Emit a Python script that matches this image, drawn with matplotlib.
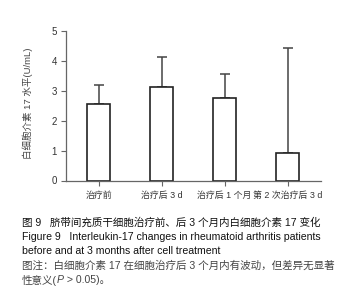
import matplotlib
matplotlib.use("Agg")
import matplotlib.pyplot as plt
import numpy as np

plt.rcParams['font.family'] = ['Liberation Sans', 'Noto Sans CJK SC', 'DejaVu Sans']

categories = ["治疗前", "治疗后 3 d", "治疗后 1 个月", "第 2 次治疗后 3 d"]
means = [2.56, 3.12, 2.75, 0.92]
errors = [0.64, 1.02, 0.80, 3.50]
yticks = [0, 1, 2, 3, 4, 5]
ylabel = "白细胞介素 17 水平(U/mL)"
caption_lines = [
    ("图 9   脐带间充质干细胞治疗前、后 3 个月内白细胞介素 17 变化", "#111111"),
    ("Figure 9   Interleukin-17 changes in rheumatoid arthritis patients", "#111111"),
    ("before and at 3 months after cell treatment", "#111111"),
    ("图注：白细胞介素 17 在细胞治疗后 3 个月内有波动，但差异无显著", "#444444"),
]
last_parts = [("性意义(", "normal"), ("P", "italic"), (" > 0.05)。", "normal")]

W, H = 343, 298
fig = plt.figure(figsize=(W / 100, H / 100), dpi=100)
ax = fig.add_axes([66 / W, 1 - 180.5 / H, (321 - 66) / W, (180.5 - 31) / H])

x = np.arange(len(categories))
axis_color = "#666666"
ax.bar(x, means, width=0.37, color="white", edgecolor="#222222", linewidth=1.2, zorder=2)
ax.errorbar(x, means, yerr=[np.zeros(len(errors)), errors], fmt="none",
            ecolor="#444444", elinewidth=1.1, capsize=3.5, capthick=1.1, zorder=1)

ax.set_xlim(-0.52, 3.53)
ax.set_ylim(0, 5)
ax.set_yticks(yticks)
ax.set_xticks(x)
ax.set_xticklabels(categories, fontsize=6.4, color="#333333")
ax.tick_params(axis="y", labelsize=7, colors="#333333", length=3.5, width=0.8, color=axis_color, pad=3)
ax.tick_params(axis="x", length=3.5, width=0.8, color=axis_color, pad=4)
for s in ["top", "right"]:
    ax.spines[s].set_visible(False)
for s in ["left", "bottom"]:
    ax.spines[s].set_color(axis_color)
    ax.spines[s].set_linewidth(0.9)
ax.spines["left"].set_bounds(0, 5)

fig.text(27.5 / W, 1 - 103 / H, ylabel, rotation=90, fontsize=6.8, color="#444444",
         ha="center", va="center")

fs = 7.6
ys = [222, 236.5, 251, 265.5, 280]
for (txt, col), yy in zip(caption_lines, ys[:4]):
    fig.text(22 / W, 1 - yy / H, txt, fontsize=fs, color=col, ha="left", va="center")

renderer = fig.canvas.get_renderer()
xpos = 22
for txt, style in last_parts:
    t = fig.text(xpos / W, 1 - ys[4] / H, txt, fontsize=fs, color="#444444",
                 ha="left", va="center", style=style)
    bb = t.get_window_extent(renderer=renderer)
    xpos += bb.width

fig.savefig("out.png", dpi=100)
